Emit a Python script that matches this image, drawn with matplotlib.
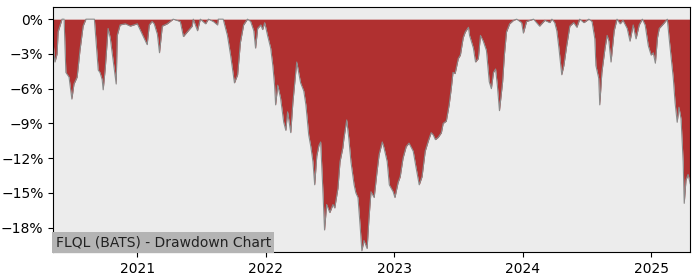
import pandas as pd
import matplotlib
matplotlib.use("Agg")
import matplotlib.pyplot as plt
import matplotlib.dates as mdates
from matplotlib.ticker import PercentFormatter

# drawdown of FLQL (percent below running peak)
dates = [
    "2020-05-07", "2020-05-12", "2020-05-18", "2020-05-21", "2020-06-01", "2020-06-07",
    "2020-06-12", "2020-06-21", "2020-06-29", "2020-07-05", "2020-07-14", "2020-07-22",
    "2020-07-31", "2020-08-08", "2020-09-01", "2020-09-06", "2020-09-12", "2020-09-17",
    "2020-09-23", "2020-09-26", "2020-10-02", "2020-10-10", "2020-10-16", "2020-10-24",
    "2020-11-02", "2020-11-05", "2020-11-13", "2020-11-28", "2020-12-12", "2021-01-01",
    "2021-01-29", "2021-02-04", "2021-02-12", "2021-02-18", "2021-02-27", "2021-03-05",
    "2021-03-13", "2021-03-27", "2021-04-13", "2021-05-03", "2021-05-12", "2021-05-23",
    "2021-06-06", "2021-06-09", "2021-06-21", "2021-06-29", "2021-07-14", "2021-07-22",
    "2021-08-05", "2021-08-17", "2021-08-19", "2021-09-02", "2021-09-14", "2021-09-23",
    "2021-09-28", "2021-10-04", "2021-10-13", "2021-10-21", "2021-10-30", "2021-11-10",
    "2021-11-19", "2021-11-28", "2021-12-03", "2021-12-09", "2021-12-18", "2021-12-23",
    "2021-12-29", "2022-01-06", "2022-01-15", "2022-01-21", "2022-01-26", "2022-01-29",
    "2022-02-04", "2022-02-12", "2022-02-21", "2022-02-27", "2022-03-04", "2022-03-13",
    "2022-03-19", "2022-03-27", "2022-03-30", "2022-04-10", "2022-04-19", "2022-04-25",
    "2022-04-30", "2022-05-03", "2022-05-09", "2022-05-15", "2022-05-20", "2022-05-26",
    "2022-06-01", "2022-06-06", "2022-06-12", "2022-06-17", "2022-06-23", "2022-07-02",
    "2022-07-11", "2022-07-16", "2022-07-25", "2022-07-31", "2022-08-08", "2022-08-11",
    "2022-08-19", "2022-08-25", "2022-08-31", "2022-09-09", "2022-09-14", "2022-09-20",
    "2022-09-26", "2022-10-01", "2022-10-07", "2022-10-16", "2022-10-21", "2022-10-27",
    "2022-11-05", "2022-11-13", "2022-11-19", "2022-11-28", "2022-12-03", "2022-12-12",
    "2022-12-18", "2022-12-29", "2023-01-03", "2023-01-12", "2023-01-18", "2023-01-26",
    "2023-02-04", "2023-02-12", "2023-02-24", "2023-03-04", "2023-03-13", "2023-03-21",
    "2023-03-30", "2023-04-08", "2023-04-16", "2023-04-22", "2023-04-28", "2023-05-06",
    "2023-05-15", "2023-05-20", "2023-05-29", "2023-06-06", "2023-06-12", "2023-06-17",
    "2023-06-23", "2023-07-02", "2023-07-08", "2023-07-16", "2023-07-22", "2023-07-31",
    "2023-08-03", "2023-08-14", "2023-08-20", "2023-08-28", "2023-09-03", "2023-09-11",
    "2023-09-20", "2023-09-28", "2023-10-04", "2023-10-10", "2023-10-16", "2023-10-21",
    "2023-10-27", "2023-11-05", "2023-11-10", "2023-11-16", "2023-11-25", "2023-12-06",
    "2023-12-15", "2023-12-29", "2024-01-03", "2024-01-12", "2024-02-01", "2024-02-18",
    "2024-03-04", "2024-03-18", "2024-03-24", "2024-04-01", "2024-04-07", "2024-04-13",
    "2024-04-21", "2024-04-27", "2024-05-05", "2024-05-14", "2024-05-25", "2024-06-03",
    "2024-06-11", "2024-06-23", "2024-07-07", "2024-07-16", "2024-07-24", "2024-07-27",
    "2024-08-04", "2024-08-07", "2024-08-13", "2024-08-22", "2024-08-28", "2024-09-02",
    "2024-09-08", "2024-09-17", "2024-09-25", "2024-10-04", "2024-10-12", "2024-10-24",
    "2024-11-01", "2024-11-10", "2024-11-18", "2024-11-27", "2024-12-06", "2024-12-14",
    "2024-12-23", "2024-12-31", "2025-01-06", "2025-01-12", "2025-01-18", "2025-01-23",
    "2025-02-04", "2025-02-15", "2025-02-20", "2025-03-04", "2025-03-09", "2025-03-15",
    "2025-03-20", "2025-03-26", "2025-04-01", "2025-04-04", "2025-04-09", "2025-04-15",
    "2025-04-21",
]
drawdown = [
    -2.1, -3.7, -3.0, -1.1, 0.0, 0.0,
    -4.6, -5.0, -6.9, -5.6, -5.0, -2.7,
    -0.6, 0.0, 0.0, -2.0, -4.4, -4.6,
    -5.2, -6.1, -4.2, -0.8, -1.6, -3.5,
    -5.6, -1.4, -0.5, -0.4, -0.6, -0.4,
    -2.2, -0.5, -0.2, -0.4, -1.3, -2.9,
    -0.6, -0.4, 0.0, -0.2, -1.5, -1.1,
    -0.6, 0.0, -1.0, 0.0, -0.4, 0.0,
    -0.2, -0.5, 0.0, 0.0, -1.4, -3.1,
    -4.2, -5.5, -4.8, -2.0, -0.5, 0.0,
    -0.2, -1.0, -2.5, -0.8, -0.5, -0.9,
    -0.3, -1.4, -2.5, -4.0, -5.7, -7.4,
    -5.7, -6.8, -8.9, -9.6, -8.0, -9.8,
    -7.2, -4.6, -3.7, -5.5, -6.2, -7.4,
    -9.0, -10.0, -11.0, -12.3, -14.3, -11.8,
    -10.9, -10.6, -14.6, -18.2, -16.0, -16.7,
    -16.0, -16.3, -14.6, -12.3, -11.1, -10.3,
    -8.7, -10.3, -12.3, -14.3, -15.0, -15.4,
    -17.8, -20.0, -19.1, -19.8, -17.3, -14.9,
    -15.4, -13.2, -11.7, -10.6, -11.1, -12.3,
    -14.3, -14.9, -15.4, -14.1, -13.6, -12.0,
    -11.0, -10.7, -11.4, -12.8, -14.3, -13.6,
    -11.4, -10.5, -9.8, -10.0, -10.4, -10.2,
    -9.8, -9.0, -8.8, -7.4, -6.0, -4.6,
    -4.7, -3.4, -3.1, -1.6, -1.1, -0.7,
    -1.4, -2.5, -3.7, -3.4, -1.4, -1.9,
    -2.7, -5.4, -6.0, -4.6, -4.3, -5.7,
    -7.9, -5.4, -3.1, -1.1, -0.4, -0.1,
    0.0, -0.3, -1.2, -0.2, 0.0, -0.6,
    -0.1, -0.3, 0.0, -0.3, -1.0, -2.5,
    -4.8, -4.0, -2.3, -0.6, -0.3, -0.7,
    0.0, -0.3, 0.0, -0.2, -1.7, -4.0,
    -5.1, -7.4, -4.6, -2.5, -1.4, -1.9,
    -3.7, -1.0, 0.0, -0.4, -0.1, -0.8,
    -1.9, -0.5, -1.7, -0.5, 0.0, -0.5,
    -2.3, -3.1, -2.9, -3.8, -1.6, -0.8,
    -0.4, 0.0, -1.6, -5.1, -7.2, -8.9,
    -7.6, -8.6, -12.3, -15.9, -13.9, -13.4,
    -14.2,
]
yticks = [0, -3, -6, -9, -12, -15, -18]
title = "FLQL (BATS) - Drawdown Chart"

dd = pd.Series(drawdown, index=pd.to_datetime(dates))

fig, ax = plt.subplots(figsize=(7, 2.8), dpi=100)
ax.set_facecolor("#ececec")

# red area from zero down to the drawdown, thin grey outline on the edge
ax.fill_between(dd.index, dd.values, 0, color="#b03030", linewidth=0)
ax.plot(dd.index, dd.values, color="#8a8a8a", linewidth=0.8)

ax.set_xlim(dd.index.min(), dd.index.max())
ax.set_ylim(-20.1, 1.05)
ax.set_yticks(yticks)
ax.yaxis.set_major_formatter(PercentFormatter(decimals=0))
ax.xaxis.set_major_locator(mdates.YearLocator())
ax.xaxis.set_major_formatter(mdates.DateFormatter("%Y"))

ax.text(0.004, 0.012, title, transform=ax.transAxes, fontsize=10,
        ha="left", va="bottom", color="#222222",
        bbox=dict(facecolor="#b4b4b4", edgecolor="none", pad=2.5))

plt.subplots_adjust(left=0.076, right=0.986, top=0.975, bottom=0.1)
plt.savefig("out.png", dpi=100)
